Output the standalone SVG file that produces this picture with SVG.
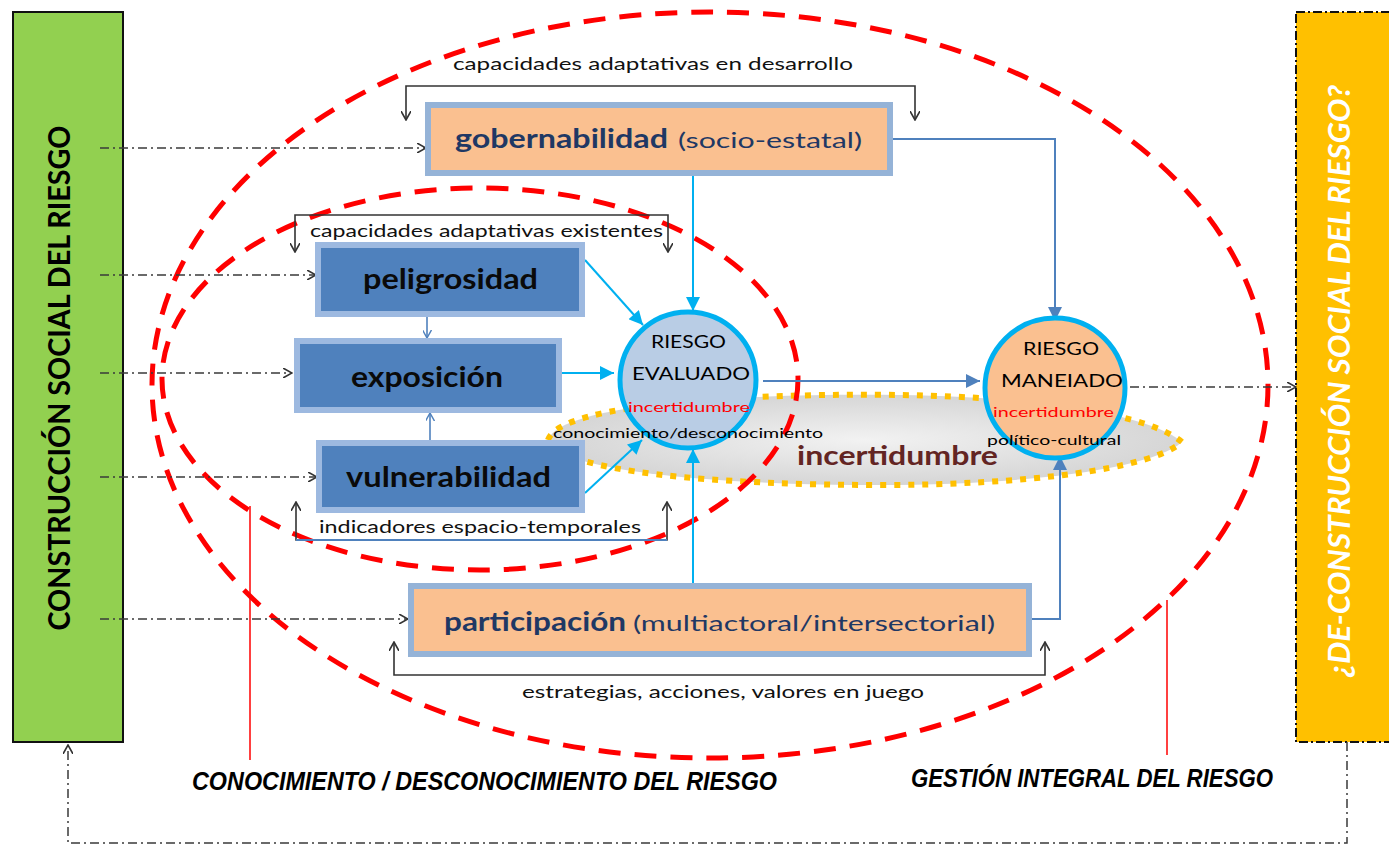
<svg xmlns="http://www.w3.org/2000/svg" width="1389" height="846" viewBox="0 0 1389 846">
<defs>
<style>
text{font-family:Lato,"Noto Sans","Liberation Sans",sans-serif}
.dd{fill:none;stroke:#3a3a3a;stroke-width:1.5;stroke-dasharray:9 4 2 4}
.br{fill:none;stroke:#333;stroke-width:1.6}
.red{fill:none;stroke:#FF0000;stroke-width:5;stroke-dasharray:22 14}
.cy{fill:none;stroke:#00B0F0;stroke-width:2}
.bl{fill:none;stroke:#4F81BD;stroke-width:2}
.box-b{fill:#4F81BD;stroke:#9DB9E0;stroke-width:6}
.box-o{fill:#FAC090;stroke:#95B3D7;stroke-width:6}
.lbl{font-size:17px;fill:#111}
.nb{font-size:28px;font-weight:bold;fill:#0a0a0a;text-anchor:start}
.nv{font-size:27px;font-weight:bold;fill:#1F3864}
.nvr{font-size:22px;fill:#1F3864}
.ct{font-size:17px;fill:#000}
.cr{font-size:14px;fill:#FF0000}
.cs{font-size:14px;fill:#000}
.cap{font-family:"Liberation Sans",Arial,sans-serif;font-size:25px;font-weight:bold;font-style:italic;fill:#000}
</style>
<marker id="oa" viewBox="0 0 10 10" refX="9" refY="5" markerWidth="10" markerHeight="10" markerUnits="userSpaceOnUse" orient="auto-start-reverse"><path d="M0,0 L9,5 L0,10" fill="none" stroke="#333" stroke-width="1.6"/></marker>
<marker id="ca" viewBox="0 0 10 10" refX="10" refY="5" markerWidth="16" markerHeight="14" markerUnits="userSpaceOnUse" orient="auto"><path d="M0,0 L10,5 L0,10 Z" fill="#00B0F0"/></marker>
<marker id="ba" viewBox="0 0 10 10" refX="10" refY="5" markerWidth="16" markerHeight="14" markerUnits="userSpaceOnUse" orient="auto"><path d="M0,0 L10,5 L0,10 Z" fill="#4F81BD"/></marker>
<marker id="sa" viewBox="0 0 10 10" refX="9" refY="5" markerWidth="9" markerHeight="9" markerUnits="userSpaceOnUse" orient="auto"><path d="M0,0 L9,5 L0,10" fill="none" stroke="#4F81BD" stroke-width="1.6"/></marker>
<radialGradient id="gg" cx="0.5" cy="0.5" r="0.6"><stop offset="0" stop-color="#F2F2F2"/><stop offset="1" stop-color="#D0D0D0"/></radialGradient>
</defs>
<rect width="1389" height="846" fill="#fff"/>

<g id="incertidumbre-zone">
<path d="M548,440 C560,402 760,393 900,395 C1040,397 1150,415 1182,442 C1150,470 1020,485 880,485 C720,485 560,472 548,440 Z" fill="url(#gg)" stroke="#FFC000" stroke-width="6" stroke-dasharray="6 8"/>
<text x="797" y="465" font-size="27" font-weight="bold" fill="#632523" textLength="201" lengthAdjust="spacingAndGlyphs">incertidumbre</text>
</g>

<g id="construccion">
<rect x="13" y="12" width="110" height="730" fill="#92D050" stroke="#111" stroke-width="2"/>
<text transform="translate(70,378) rotate(-90)" text-anchor="middle" font-size="30" font-weight="bold" fill="#000" textLength="505" lengthAdjust="spacingAndGlyphs">CONSTRUCCIÓN SOCIAL DEL RIESGO</text>
</g>

<g id="deconstruccion">
<rect x="1296" y="12" width="100" height="730" fill="#FFC000" stroke="#111" stroke-width="2" stroke-dasharray="9 3 2 3"/>
<text transform="translate(1350,381) rotate(-90)" text-anchor="middle" font-size="30" font-weight="bold" font-style="italic" fill="#fff" textLength="592" lengthAdjust="spacingAndGlyphs">¿DE-CONSTRUCCIÓN SOCIAL DEL RIESGO?</text>
</g>

<g id="ellipses">
<ellipse cx="710" cy="385" rx="558" ry="373" class="red"/>
<ellipse cx="480" cy="379" rx="318" ry="191" class="red"/>
<line x1="250" y1="506" x2="250" y2="760" stroke="#FF0000" stroke-width="1.5"/>
<line x1="1167" y1="600" x2="1167" y2="755" stroke="#FF0000" stroke-width="1.5"/>
</g>

<g id="connectors">
<path class="dd" d="M100,148 H426" marker-end="url(#oa)"/>
<path class="dd" d="M100,275 H316" marker-end="url(#oa)"/>
<path class="dd" d="M100,373 H292" marker-end="url(#oa)"/>
<path class="dd" d="M100,477 H317" marker-end="url(#oa)"/>
<path class="dd" d="M100,619 H408" marker-end="url(#oa)"/>
<path class="dd" d="M1130,387 H1296" marker-end="url(#oa)"/>
<path class="dd" d="M1347,742 V843 H68 V745" stroke-width="1.3" stroke-dasharray="7 3 2 3" marker-end="url(#oa)"/>
<polyline class="br" points="406,120 406,86 915,86 915,120" marker-start="url(#oa)" marker-end="url(#oa)"/>
<polyline class="br" points="295,252 295,215 668,215 668,252" marker-start="url(#oa)" marker-end="url(#oa)"/>
<polyline class="br" points="296,502 296,540 667,540 667,502" marker-start="url(#oa)" marker-end="url(#oa)"/>
<line x1="296" y1="540" x2="667" y2="540" stroke="#4F81BD" stroke-width="1.8"/>
<polyline class="br" points="394,642 394,675 1045,675 1045,642" marker-start="url(#oa)" marker-end="url(#oa)"/>
<path class="cy" d="M693,176 V311" marker-end="url(#ca)"/>
<path class="cy" d="M693,583 V449" marker-end="url(#ca)"/>
<path class="cy" d="M585,260 L643,325" marker-end="url(#ca)"/>
<path class="cy" d="M562,373 H614" marker-end="url(#ca)"/>
<path class="cy" d="M585,493 L642,440" marker-end="url(#ca)"/>
<path class="bl" d="M893,139 H1055 V321" marker-end="url(#ba)"/>
<path class="bl" d="M1032,619 H1060 V456" marker-end="url(#ba)"/>
<path class="bl" d="M763,381 H980" marker-end="url(#ba)"/>
<path d="M427,317 V338" fill="none" stroke="#4F81BD" stroke-width="1.6" marker-end="url(#sa)"/>
<path d="M430,440 V413" fill="none" stroke="#4F81BD" stroke-width="1.6" marker-end="url(#sa)"/>
<text class="lbl" x="453" y="70" textLength="400" lengthAdjust="spacingAndGlyphs">capacidades adaptativas en desarrollo</text>
<text class="lbl" x="310" y="237" textLength="353" lengthAdjust="spacingAndGlyphs">capacidades adaptativas existentes</text>
<text class="lbl" x="319" y="533" textLength="322" lengthAdjust="spacingAndGlyphs">indicadores espacio-temporales</text>
<text class="lbl" x="522" y="698" textLength="402" lengthAdjust="spacingAndGlyphs">estrategias, acciones, valores en juego</text>
</g>

<g id="gobernabilidad">
<rect class="box-o" x="428" y="105" width="462" height="68"/>
<text class="nv" x="455" y="148" textLength="213" lengthAdjust="spacingAndGlyphs">gobernabilidad</text>
<text class="nvr" x="678" y="148" textLength="184" lengthAdjust="spacingAndGlyphs">(socio-estatal)</text>
</g>

<g id="peligrosidad">
<rect class="box-b" x="318" y="245" width="264" height="69"/>
<text class="nb" x="363" y="289" textLength="175" lengthAdjust="spacingAndGlyphs">peligrosidad</text>
</g>

<g id="exposicion">
<rect class="box-b" x="297" y="341" width="262" height="69"/>
<text class="nb" x="351" y="387" textLength="152" lengthAdjust="spacingAndGlyphs">exposición</text>
</g>

<g id="vulnerabilidad">
<rect class="box-b" x="319" y="443" width="263" height="67"/>
<text class="nb" x="346" y="487" textLength="205" lengthAdjust="spacingAndGlyphs">vulnerabilidad</text>
</g>

<g id="participacion">
<rect class="box-o" x="411" y="586" width="618" height="68"/>
<text class="nv" x="444" y="631" textLength="182" lengthAdjust="spacingAndGlyphs">participación</text>
<text class="nvr" x="633" y="631" textLength="362" lengthAdjust="spacingAndGlyphs">(multiactoral/intersectorial)</text>
</g>

<g id="riesgo-evaluado">
<circle cx="688" cy="380" r="68" fill="#B9CDE5" stroke="#00B0F0" stroke-width="5"/>
<text class="ct" x="651" y="348" textLength="75" lengthAdjust="spacingAndGlyphs">RIESGO</text>
<text class="ct" x="632" y="380" textLength="118" lengthAdjust="spacingAndGlyphs">EVALUADO</text>
<text class="cr" x="628" y="412" textLength="122" lengthAdjust="spacingAndGlyphs">incertidumbre</text>
<text class="cs" x="553" y="438" textLength="270" lengthAdjust="spacingAndGlyphs">conocimiento/desconocimiento</text>
</g>

<g id="riesgo-manejado">
<circle cx="1055" cy="388" r="70" fill="#FAC090" stroke="#00B0F0" stroke-width="5"/>
<text class="ct" x="1023" y="355" textLength="76" lengthAdjust="spacingAndGlyphs">RIESGO</text>
<text class="ct" x="1001" y="387" textLength="122" lengthAdjust="spacingAndGlyphs">MANEIADO</text>
<text class="cr" x="993" y="417" textLength="121" lengthAdjust="spacingAndGlyphs">incertidumbre</text>
<text class="cs" x="987" y="445" textLength="134" lengthAdjust="spacingAndGlyphs">político-cultural</text>
</g>

<g id="labels">
<text class="cap" x="192" y="790" textLength="585" lengthAdjust="spacingAndGlyphs">CONOCIMIENTO / DESCONOCIMIENTO DEL RIESGO</text>
<text class="cap" x="911" y="787" textLength="362" lengthAdjust="spacingAndGlyphs">GESTIÓN INTEGRAL DEL RIESGO</text>
</g>
</svg>
